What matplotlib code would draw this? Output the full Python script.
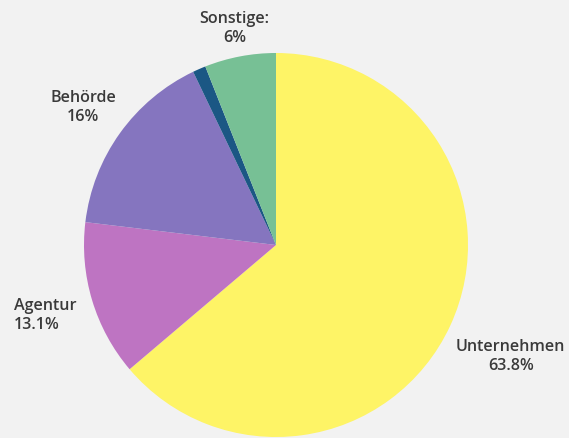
import numpy as np
import matplotlib
matplotlib.use('Agg')
from matplotlib import pyplot as plt

# Share of entries per category
labels = ['Unternehmen', 'Agentur', 'Behörde', '', 'Sonstige:']
values = [63.8, 13.1, 16.0, 1.1, 6.0]
value_text = ['63.8%', '13.1%', '16%', '', '6%']
colors = ['#fef466', '#be74c2', '#8575bf', '#1b5784', '#77c095']

W, H = 569, 439
fig = plt.figure(figsize=(W / 100, H / 100), dpi=100)
fig.patch.set_facecolor('#f2f2f2')
ax = fig.add_axes([0, 0, 1, 1])

cx, cy, r = 276, H - 246, 192
wedges, _ = ax.pie(values, colors=colors, startangle=90, counterclock=False,
                   center=(cx, cy), radius=r, frame=True,
                   wedgeprops=dict(linewidth=0))
ax.set_xlim(0, W)
ax.set_ylim(0, H)
ax.set_aspect('equal')
ax.axis('off')

# Labels outside each slice, along the middle angle
dist = [1.35, 1.255, 1.235, 0, 1.155]
shift = [0.005, 0, 0, 0, 0]
align = ['center', 'left', 'center', 'center', 'center']
for w, lab, val, d, s, al in zip(wedges, labels, value_text, dist, shift, align):
    if not lab:
        continue
    ang = np.deg2rad((w.theta1 + w.theta2) / 2) - s
    x = cx + d * r * np.cos(ang)
    y = cy + d * r * np.sin(ang)
    ax.text(x, y, lab + '\n' + val, ha='center', va='center',
            multialignment=al, fontsize=11.6, color='#3a3a3a',
            family='Open Sans', fontweight='semibold', linespacing=1.25)

fig.savefig('out.png', dpi=100, facecolor=fig.get_facecolor())
